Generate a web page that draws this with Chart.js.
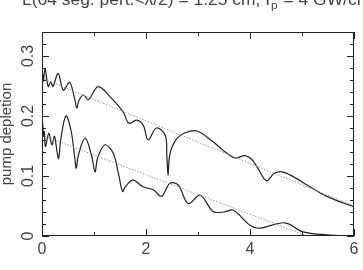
<!DOCTYPE html>
<html>
<head>
<meta charset="utf-8">
<script src="https://cdn.jsdelivr.net/npm/chart.js@4/dist/chart.umd.min.js"></script>
<style>
  body { margin: 0; background: #fff; }
  canvas { display: block; }
</style>
</head>
<body>
<canvas id="myChart" width="363" height="270"></canvas>
<script>
// values
const upperX = [0, 0.01, 0.025, 0.06, 0.12, 0.17, 0.21, 0.31, 0.41, 0.53, 0.63, 0.67, 0.71, 0.80, 0.89, 1.08, 1.31, 1.56, 1.67, 1.82, 1.95, 2.04, 2.20, 2.37, 2.40, 2.423, 2.45, 2.50, 2.60, 2.75, 2.98, 3.29, 3.48, 3.71, 3.90, 4.04, 4.15, 4.32, 4.46, 4.62, 4.83, 5.21, 5.48, 5.79, 6.0];
const upperY = [0.228, 0.270, 0.258, 0.278, 0.249, 0.257, 0.249, 0.271, 0.243, 0.256, 0.228, 0.213, 0.226, 0.235, 0.227, 0.249, 0.232, 0.207, 0.188, 0.193, 0.184, 0.160, 0.180, 0.168, 0.135, 0.102, 0.132, 0.148, 0.163, 0.172, 0.175, 0.157, 0.143, 0.130, 0.134, 0.127, 0.113, 0.092, 0.104, 0.107, 0.099, 0.079, 0.066, 0.055, 0.049];

const lowerX = [0, 0.01, 0.03, 0.045, 0.065, 0.13, 0.19, 0.24, 0.29, 0.32, 0.36, 0.46, 0.56, 0.63, 0.66, 0.70, 0.83, 0.95, 1.02, 1.07, 1.21, 1.37, 1.47, 1.55, 1.60, 1.75, 1.94, 2.14, 2.30, 2.46, 2.62, 2.81, 3.04, 3.29, 3.50, 3.68, 4.00, 4.19, 4.67, 5.02, 5.47, 6.0];
const lowerY = [0.145, 0.190, 0.166, 0.174, 0.149, 0.171, 0.152, 0.166, 0.140, 0.129, 0.160, 0.200, 0.175, 0.130, 0.113, 0.135, 0.163, 0.135, 0.107, 0.130, 0.152, 0.138, 0.104, 0.074, 0.082, 0.093, 0.082, 0.077, 0.066, 0.088, 0.085, 0.054, 0.068, 0.041, 0.040, 0.043, 0.018, 0.013, 0.022, 0.007, 0.002, 0.000];

// dotted straight lines
const fitUpperX = [0, 6];
const fitUpperY = [0.263, 0.050];
const fitLowerX = [0, 5.1];
const fitLowerY = [0.168, 0];

const xTicks = [0, 2, 4, 6];
const yTicks = [0, 0.1, 0.2, 0.3];

const toPoints = (xs, ys) => xs.map((x, i) => ({ x: x, y: ys[i] }));

const frame = {
    id: 'frame',
    afterDraw(chart) {
        const ctx = chart.ctx;
        const a = chart.chartArea;
        const xs = chart.scales.x;
        const ys = chart.scales.y;
        ctx.save();
        ctx.strokeStyle = '#222';
        ctx.lineWidth = 1;
        ctx.strokeRect(a.left + 0.5, a.top + 0.5, a.right - a.left - 1, a.bottom - a.top - 1);

        ctx.beginPath();
        for (let v = 0; v <= 6; v++) {
            const px = Math.round(xs.getPixelForValue(v)) + 0.5;
            const len = v % 2 === 0 ? 7 : 4;
            ctx.moveTo(px, a.bottom); ctx.lineTo(px, a.bottom - len);
            ctx.moveTo(px, a.top); ctx.lineTo(px, a.top + len);
        }
        for (let i = 0; i <= 17; i++) {
            const py = Math.round(ys.getPixelForValue(i * 0.02)) + 0.5;
            const len = i % 5 === 0 ? 7 : 4;
            ctx.moveTo(a.left, py); ctx.lineTo(a.left + len, py);
            ctx.moveTo(a.right, py); ctx.lineTo(a.right - len, py);
        }
        ctx.stroke();

        ctx.fillStyle = '#444';
        ctx.font = '16px "Liberation Sans", Arial, sans-serif';
        ctx.textAlign = 'center';
        ctx.textBaseline = 'middle';
        xTicks.forEach(v => ctx.fillText(String(v), xs.getPixelForValue(v), 250));
        yTicks.forEach(v => {
            ctx.save();
            ctx.translate(28, ys.getPixelForValue(v));
            ctx.rotate(-Math.PI / 2);
            ctx.fillText(String(v), 0, 1);
            ctx.restore();
        });

        ctx.font = '15px "Liberation Sans", Arial, sans-serif';
        ctx.save();
        ctx.translate(7, (a.top + a.bottom) / 2);
        ctx.rotate(-Math.PI / 2);
        ctx.fillText('pump depletion', 0, 0);
        ctx.restore();

        // title, cut off at the top edge like the original
        ctx.textAlign = 'left';
        ctx.textBaseline = 'alphabetic';
        ctx.font = '16px "Liberation Sans", Arial, sans-serif';
        const main = 'L(64 seg. pert.<λ/2) = 1.25 cm, I';
        const w = ctx.measureText(main).width;
        const k = 248 / w;
        ctx.save();
        ctx.translate(22, 5);
        ctx.scale(k, 1);
        ctx.fillText(main, 0, 0);
        ctx.font = '11px "Liberation Sans", Arial, sans-serif';
        ctx.fillText('p', w + 1, 4);
        ctx.font = '16px "Liberation Sans", Arial, sans-serif';
        ctx.fillText(' = 4 GW/cm²', w + 8, 0);
        ctx.restore();
        ctx.restore();
    }
};

const ctx = document.getElementById('myChart').getContext('2d');
new Chart(ctx, {
    type: 'line',
    data: {
        datasets: [
            { data: toPoints(fitUpperX, fitUpperY), borderColor: '#999', borderWidth: 1, borderDash: [1.5, 1.5], tension: 0 },
            { data: toPoints(fitLowerX, fitLowerY), borderColor: '#999', borderWidth: 1, borderDash: [1.5, 1.5], tension: 0 },
            { data: toPoints(upperX, upperY), borderColor: '#222', borderWidth: 1.2, tension: 0.35 },
            { data: toPoints(lowerX, lowerY), borderColor: '#222', borderWidth: 1.2, tension: 0.35 }
        ]
    },
    options: {
        responsive: false,
        animation: false,
        layout: { padding: { left: 42, right: 9, top: 32, bottom: 34 } },
        elements: { point: { radius: 0 } },
        plugins: { legend: { display: false }, tooltip: { enabled: false } },
        scales: {
            x: { type: 'linear', min: 0, max: 6, display: false },
            y: { type: 'linear', min: 0, max: 0.34, display: false }
        }
    },
    plugins: [frame]
});
</script>
</body>
</html>
